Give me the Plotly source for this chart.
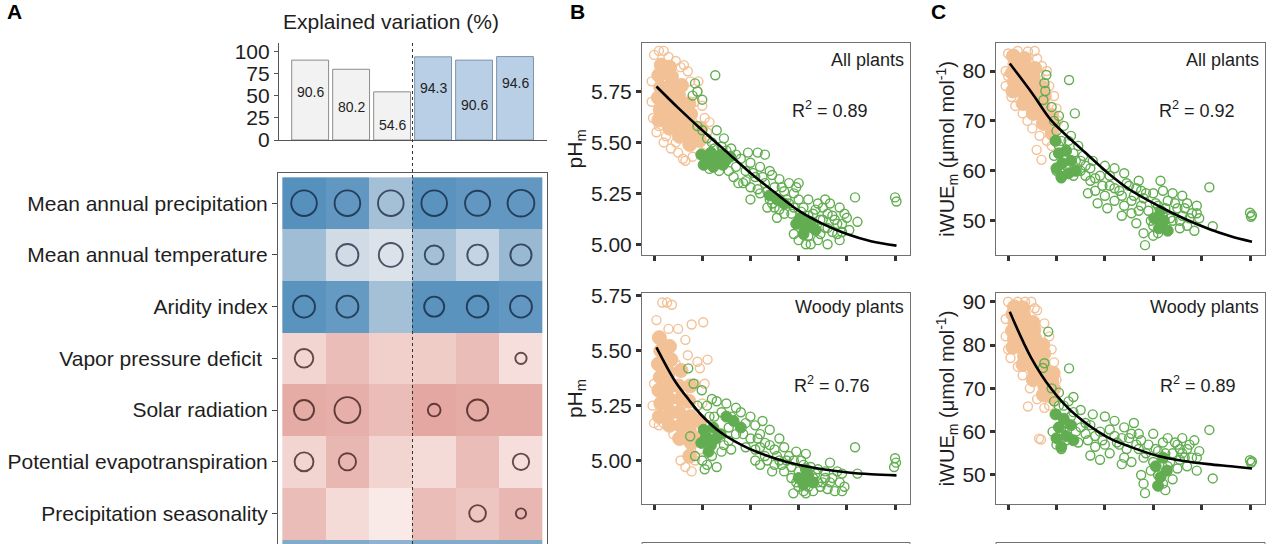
import plotly.graph_objects as go

W, H = 1280, 544

# ---------------- Panel A: explained variation + climate drivers ----------------
bar_values = [90.6, 80.2, 54.6, 94.3, 90.6, 94.6]
bar_label_y = [54.5, 37.5, 17, 59, 40, 65]   # height of the value text inside each bar

drivers = ["Mean annual precipitation", "Mean annual temperature", "Aridity index",
           "Vapor pressure deficit\u00a0", "Solar radiation",
           "Potential evapotranspiration", "Precipitation seasonality", ""]

# correlation-like cell values (blue > 0, red < 0); last row is cut off at the bottom
heat_values = [
    [0.75, 0.70, 0.40, 0.73, 0.70, 0.70],
    [0.42, 0.20, 0.15, 0.40, 0.25, 0.45],
    [0.73, 0.68, 0.40, 0.73, 0.73, 0.70],
    [-0.22, -0.38, -0.25, -0.28, -0.38, -0.16],
    [-0.50, -0.47, -0.38, -0.52, -0.50, -0.50],
    [-0.22, -0.42, -0.22, -0.18, -0.38, -0.16],
    [-0.38, -0.18, -0.08, -0.38, -0.32, -0.42],
    [0.55, 0.55, 0.50, 0.55, 0.55, 0.55],
]

# relative importance shown by circle size (0 = no circle)
importance = [
    [9.5, 9.5, 9.5, 9.5, 9.3, 9.9],
    [0, 8.2, 8.9, 7.1, 7.7, 7.9],
    [8.2, 8.2, 0, 7.5, 8.1, 8.2],
    [7.0, 0, 0, 0, 0, 4.4],
    [7.5, 9.6, 0, 4.9, 7.9, 0],
    [7.1, 6.5, 0, 0, 0, 6.2],
    [0, 0, 0, 0, 6.3, 4.0],
    [0, 0, 0, 0, 0, 0],
]

# ---------------- Panel B: pHm ----------------
b_all_orange_core = [
    (0.10, 5.61), (0.13, 5.66), (0.09, 5.72), (0.14, 5.77), (0.10, 5.83), (0.15, 5.88),
    (0.32, 5.57), (0.35, 5.62), (0.31, 5.67), (0.34, 5.72), (0.30, 5.77), (0.36, 5.82), (0.32, 5.87),
    (0.53, 5.53), (0.56, 5.58), (0.52, 5.63), (0.55, 5.68), (0.51, 5.73), (0.57, 5.78),
    (0.74, 5.49), (0.77, 5.54), (0.73, 5.59), (0.76, 5.64), (0.72, 5.69),
    (0.94, 5.51), (0.97, 5.57),
]
b_all_orange = [
    (0.00, 5.93), (0.10, 5.95), (0.20, 5.95), (0.45, 5.90), (0.62, 5.88), (0.30, 5.92),
    (-0.05, 5.80), (-0.05, 5.70), (-0.02, 5.62), (0.05, 5.55), (0.20, 5.50), (0.35, 5.47),
    (0.50, 5.45), (0.60, 5.42), (0.65, 5.41), (0.80, 5.43), (0.75, 5.80), (0.90, 5.75),
    (1.00, 5.68), (1.05, 5.62), (1.10, 5.55), (1.15, 5.60), (0.85, 5.70), (0.70, 5.85),
    (0.55, 5.87), (1.00, 5.45), (0.45, 5.50), (0.25, 5.53), (0.10, 5.58), (0.92, 5.80),
    (0.40, 5.83), (0.15, 5.72), (0.65, 5.65), (0.80, 5.60), (1.08, 5.48),
]
b_all_green_core = [
    (0.98, 5.44), (1.08, 5.42), (1.18, 5.45), (1.28, 5.42), (1.38, 5.44), (1.48, 5.41),
    (1.03, 5.39), (1.23, 5.38), (1.43, 5.39), (1.58, 5.43),
    (2.40, 5.24), (2.55, 5.22), (2.70, 5.20),
    (2.95, 5.10), (3.05, 5.13), (3.15, 5.08), (3.25, 5.11), (3.35, 5.07), (3.10, 5.05),
]
b_all_green = [
    (0.85, 5.79), (0.90, 5.75), (0.80, 5.73), (1.00, 5.71), (0.90, 5.58), (1.00, 5.56), (1.27, 5.83),
    (1.10, 5.52), (1.20, 5.50), (1.30, 5.56), (1.40, 5.48), (1.50, 5.46), (1.60, 5.47), (1.70, 5.44),
    (1.45, 5.52), (1.70, 5.38), (1.80, 5.42), (1.90, 5.36), (2.00, 5.40), (2.10, 5.33), (2.20, 5.38),
    (1.85, 5.30), (2.00, 5.28), (2.15, 5.45), (2.30, 5.44), (2.40, 5.36), (1.95, 5.45),
    (2.20, 5.25), (2.30, 5.30), (2.40, 5.22), (2.50, 5.28), (2.50, 5.18), (2.60, 5.32), (2.60, 5.22),
    (2.70, 5.26), (2.70, 5.15), (2.80, 5.20), (2.80, 5.30), (2.35, 5.18), (2.55, 5.13), (2.45, 5.34),
    (2.90, 5.25), (3.00, 5.22), (3.00, 5.12), (3.10, 5.18), (3.10, 5.08), (3.20, 5.22), (3.20, 5.04),
    (3.30, 5.15), (3.30, 5.10), (3.40, 5.20), (2.90, 5.05), (3.00, 5.02), (3.15, 5.00), (2.95, 5.28),
    (3.50, 5.12), (3.50, 5.18), (3.60, 5.08), (3.60, 5.15), (3.70, 5.06), (3.75, 5.12), (3.80, 5.05),
    (3.90, 5.10), (3.45, 5.05), (3.55, 5.22), (3.90, 5.06), (3.65, 5.20), (3.25, 5.00), (3.60, 5.00),
    (3.85, 5.02), (4.17, 5.23), (4.22, 5.11), (5.00, 5.23), (5.03, 5.21), (4.00, 5.13),
    (1.55, 5.36), (1.65, 5.33), (1.75, 5.30), (1.90, 5.31), (2.05, 5.35), (2.15, 5.27), (2.25, 5.33),
    (2.35, 5.26), (2.45, 5.20), (2.60, 5.17), (2.75, 5.22), (2.85, 5.15), (2.90, 5.18), (3.05, 5.16),
    (3.20, 5.14), (3.35, 5.17), (3.45, 5.12), (3.55, 5.08), (3.70, 5.14), (3.80, 5.10), (3.95, 5.15),
    (4.05, 5.07), (3.40, 5.02), (2.65, 5.28), (2.00, 5.22), (1.25, 5.47), (1.35, 5.36), (1.15, 5.37),
    (3.85, 5.18), (3.00, 5.30),
]
b_all_fit_x = [0.05, 0.5, 1.0, 1.5, 2.0, 2.5, 3.0, 3.5, 4.0, 4.5, 5.03]
b_all_fit_y = [5.775, 5.67, 5.56, 5.455, 5.35, 5.255, 5.165, 5.10, 5.05, 5.015, 4.993]

b_woody_orange_core = [
    (0.11, 5.20), (0.14, 5.26), (0.10, 5.32), (0.13, 5.38), (0.09, 5.44), (0.14, 5.50), (0.11, 5.56),
    (0.32, 5.16), (0.35, 5.22), (0.31, 5.28), (0.34, 5.34), (0.30, 5.40), (0.35, 5.46), (0.32, 5.52),
    (0.53, 5.10), (0.56, 5.16), (0.52, 5.22), (0.55, 5.28), (0.51, 5.34), (0.56, 5.41),
    (0.74, 5.02), (0.77, 5.08), (0.73, 5.14), (0.76, 5.20), (0.72, 5.27), (0.75, 5.34),
    (0.92, 5.10), (0.95, 5.18),
]
b_woody_orange = [
    (0.17, 5.72), (0.27, 5.72), (0.37, 5.71), (0.05, 5.64), (0.50, 5.60), (0.78, 5.62),
    (1.02, 5.63), (1.11, 5.46), (0.70, 5.48), (0.90, 5.45), (0.00, 5.35), (-0.03, 5.25),
    (0.00, 5.17), (0.10, 5.16), (0.20, 5.17), (0.40, 5.12), (0.55, 5.00), (0.65, 4.97),
    (0.78, 4.95), (0.85, 5.00), (0.95, 5.05), (0.60, 5.30), (0.85, 5.35), (1.00, 5.26),
    (0.45, 5.44), (0.25, 5.48), (0.95, 5.42), (1.05, 5.35), (0.30, 5.60), (0.65, 5.55),
    (0.20, 5.30), (0.15, 5.55),
]
b_woody_green_core = [
    (0.98, 5.08), (1.08, 5.11), (1.18, 5.07), (1.28, 5.10), (1.38, 5.12), (1.03, 5.14),
    (1.23, 5.15), (1.13, 5.04), (1.50, 5.20), (1.65, 5.18), (1.80, 5.15),
    (3.00, 4.92), (3.10, 4.89), (3.20, 4.93), (3.30, 4.90), (3.15, 4.96),
]
b_woody_green = [
    (0.71, 5.42), (0.82, 5.35), (0.99, 5.32), (0.75, 5.11), (0.90, 5.25), (0.85, 5.02),
    (1.10, 5.25), (1.20, 5.28), (1.30, 5.27), (1.40, 5.22), (1.50, 5.26), (1.60, 5.20),
    (1.70, 5.24), (1.80, 5.22), (1.90, 5.17), (2.00, 5.20), (1.25, 5.20), (1.55, 5.15),
    (1.85, 5.12), (2.10, 5.16), (2.15, 5.10), (1.00, 5.00), (1.10, 4.98), (1.20, 5.02),
    (1.40, 5.04), (1.30, 4.97), (1.05, 4.96), (2.10, 5.05), (2.20, 5.12), (2.30, 5.08),
    (2.35, 5.00), (2.40, 5.14), (2.50, 5.05), (2.50, 4.98), (2.60, 5.10), (2.60, 5.00),
    (2.70, 5.06), (2.70, 4.95), (2.80, 5.02), (2.20, 4.98), (2.45, 4.95), (2.25, 5.18),
    (2.85, 4.92), (2.90, 5.00), (3.00, 4.95), (3.00, 4.88), (3.10, 4.98), (3.10, 4.86),
    (3.20, 4.94), (3.20, 4.88), (3.30, 4.92), (3.30, 4.86), (3.40, 4.96), (3.40, 4.90),
    (2.89, 4.85), (2.95, 5.04), (3.15, 5.03), (3.50, 4.90), (3.55, 4.95), (3.60, 4.87),
    (3.70, 4.92), (3.75, 4.86), (3.85, 4.90), (3.90, 4.94), (3.65, 4.99), (3.95, 4.88),
    (4.17, 5.06), (4.22, 4.94), (5.00, 5.01), (5.02, 4.99), (4.98, 4.97),
    (1.45, 5.07), (1.55, 5.09), (1.70, 5.12), (1.90, 5.06), (2.00, 5.10), (2.10, 5.00),
    (2.30, 5.02), (2.40, 5.07), (2.55, 5.02), (2.65, 4.98), (2.75, 5.00), (2.85, 4.97),
    (2.95, 4.90), (3.05, 5.00), (3.25, 4.97), (3.35, 4.94), (3.45, 4.88), (3.55, 4.92),
    (3.65, 4.90), (3.80, 4.95), (3.90, 4.86), (1.60, 5.05), (2.20, 5.06), (3.15, 4.85),
    (1.15, 5.20),
]
b_woody_fit_x = [0.05, 0.44, 0.71, 0.99, 1.4, 1.96, 2.5, 2.99, 3.5, 4.03, 4.5, 5.03]
b_woody_fit_y = [5.516, 5.36, 5.28, 5.205, 5.125, 5.055, 5.01, 4.98, 4.96, 4.945, 4.937, 4.932]

# ---------------- Panel C: iWUEm ----------------
c_all_orange_core = [
    (0.10, 76.0), (0.13, 77.8), (0.09, 79.6), (0.14, 81.4), (0.11, 83.0),
    (0.31, 73.5), (0.34, 75.3), (0.30, 77.1), (0.35, 78.9), (0.32, 80.7), (0.34, 82.5),
    (0.52, 71.5), (0.55, 73.3), (0.51, 75.1), (0.56, 76.9), (0.52, 78.7), (0.55, 80.5),
    (0.73, 69.5), (0.76, 71.3), (0.72, 73.1), (0.75, 74.9), (0.71, 76.7),
    (0.91, 67.5), (0.94, 69.3), (0.90, 71.1),
]
c_all_orange = [
    (0.00, 83.5), (0.20, 84.0), (0.41, 83.9), (0.55, 84.0), (0.60, 82.5), (0.70, 81.0),
    (0.80, 80.0), (-0.05, 80.0), (-0.05, 77.0), (0.07, 74.8), (0.15, 73.0), (0.30, 71.5),
    (0.40, 70.0), (0.50, 68.5), (0.59, 64.2), (0.69, 62.2), (0.65, 67.0), (0.80, 66.0),
    (0.90, 65.0), (1.00, 66.0), (1.03, 70.0), (0.95, 75.0), (0.85, 77.0), (0.20, 81.0),
    (0.45, 78.0), (0.65, 79.0), (0.25, 76.0), (0.00, 79.0), (0.75, 72.0), (1.00, 72.5),
]
c_all_green_core = [
    (0.98, 66.0), (1.05, 63.5), (1.12, 61.5), (1.00, 60.5), (1.20, 64.0), (1.30, 62.0),
    (1.40, 60.0), (1.10, 58.8), (1.25, 59.5),
    (3.02, 50.5), (3.12, 48.5), (3.22, 50.0), (3.30, 48.0), (3.15, 52.0),
]
c_all_green = [
    (0.79, 79.2), (0.75, 77.6), (0.77, 76.0), (0.73, 74.2), (1.26, 78.2), (1.38, 71.5), (0.90, 72.8),
    (0.95, 70.0), (1.00, 68.0), (1.05, 71.0), (1.10, 66.0), (1.15, 69.0), (1.20, 64.0), (1.30, 67.0),
    (1.40, 62.0), (1.45, 65.0), (1.50, 60.0), (1.00, 60.0), (1.10, 58.5), (0.95, 63.0), (1.35, 59.0),
    (1.55, 63.0), (1.60, 61.0), (1.70, 58.0), (1.75, 62.0), (1.80, 56.0), (1.90, 59.0), (2.00, 55.0),
    (2.00, 61.0), (2.10, 57.0), (2.20, 54.0), (2.20, 60.5), (1.65, 55.5), (1.85, 53.5), (2.05, 52.5),
    (2.30, 56.0), (2.40, 59.5), (2.40, 53.0), (2.50, 57.0), (2.55, 51.5), (2.60, 55.0), (2.70, 58.0),
    (2.70, 52.0), (2.80, 54.5), (2.83, 45.1), (2.80, 47.5), (2.35, 51.0), (2.65, 49.5), (2.75, 56.0),
    (2.90, 52.0), (3.00, 55.5), (3.00, 49.0), (3.10, 53.0), (3.10, 47.5), (3.20, 51.0), (3.20, 56.0),
    (3.30, 48.0), (3.30, 54.0), (3.40, 50.0), (3.40, 55.5), (3.50, 52.5), (3.00, 47.0), (3.15, 58.0),
    (3.60, 51.0), (3.60, 55.0), (3.70, 49.0), (3.70, 53.5), (3.80, 51.5), (3.85, 48.0), (3.90, 53.0),
    (3.95, 50.5), (3.55, 48.5), (4.16, 56.7), (4.23, 48.9), (5.00, 51.6), (5.02, 50.8), (5.04, 51.1),
    (1.20, 61.0), (1.35, 63.5), (1.50, 62.0), (1.60, 59.0), (1.70, 60.5), (1.80, 58.5), (1.95, 57.0),
    (2.10, 59.0), (2.20, 56.5), (2.35, 55.0), (2.45, 57.5), (2.55, 54.0), (2.65, 56.5), (2.75, 53.0),
    (2.85, 55.5), (2.95, 50.0), (3.05, 53.5), (3.25, 52.5), (3.35, 50.5), (3.45, 53.5), (3.55, 50.0),
    (3.65, 52.5), (3.75, 50.5), (3.90, 51.5), (1.05, 65.0), (1.25, 66.0),
]
c_all_fit_x = [0.035, 0.5, 0.9, 1.5, 2.07, 2.5, 3.1, 3.6, 4.14, 4.6, 5.04]
c_all_fit_y = [81.5, 75.5, 70.0, 64.5, 59.5, 56.3, 53.0, 50.6, 48.4, 46.9, 45.8]

c_woody_orange_core = [
    (0.10, 79.5), (0.13, 81.4), (0.09, 83.3), (0.14, 85.2), (0.10, 87.1), (0.13, 88.8),
    (0.31, 75.5), (0.34, 77.4), (0.30, 79.3), (0.35, 81.2), (0.31, 83.1), (0.34, 85.0), (0.32, 86.9), (0.30, 88.6),
    (0.52, 72.0), (0.55, 73.9), (0.51, 75.8), (0.56, 77.7), (0.52, 79.6), (0.55, 81.5), (0.53, 83.4), (0.51, 85.2),
    (0.73, 68.5), (0.76, 70.4), (0.72, 72.3), (0.75, 74.2), (0.71, 76.1), (0.74, 78.0), (0.72, 80.0),
    (0.91, 68.0), (0.94, 69.9), (0.90, 71.8), (0.93, 73.5),
]
c_woody_orange = [
    (0.00, 90.0), (0.20, 90.0), (0.35, 90.0), (0.48, 90.0), (0.60, 88.0), (0.75, 85.0),
    (0.85, 82.0), (-0.05, 86.0), (-0.05, 82.0), (0.00, 79.0), (0.05, 77.0), (0.20, 75.0),
    (0.30, 73.0), (0.41, 65.8), (0.64, 58.4), (0.68, 58.2), (0.45, 70.0), (0.60, 67.5),
    (0.75, 65.5), (0.85, 66.0), (0.97, 67.0), (1.00, 72.0), (0.95, 76.0), (0.90, 79.0),
    (0.55, 88.5), (0.25, 84.0), (0.65, 80.0), (0.40, 77.5), (0.15, 87.0),
]
c_woody_green_core = [
    (0.98, 64.0), (1.05, 61.0), (1.15, 63.0), (1.00, 58.5), (1.20, 59.0), (1.30, 61.5),
    (1.10, 56.5), (1.35, 58.0),
    (3.05, 52.0), (3.15, 49.5), (3.20, 54.0), (3.28, 51.0), (3.10, 47.5),
]
c_woody_green = [
    (0.83, 83.1), (0.75, 75.8), (0.72, 74.7), (1.26, 74.6), (0.90, 70.0),
    (0.95, 67.0), (1.00, 64.0), (1.05, 69.0), (1.10, 61.0), (1.15, 66.0), (1.20, 58.0), (1.30, 63.5),
    (1.35, 68.0), (1.40, 60.0), (1.50, 65.0), (1.00, 57.0), (1.10, 56.0), (1.45, 57.5), (0.92, 60.0),
    (1.60, 62.0), (1.65, 58.0), (1.75, 64.0), (1.80, 56.5), (1.90, 60.0), (2.00, 57.0), (2.00, 63.5),
    (2.10, 55.0), (2.20, 59.0), (2.20, 62.5), (1.70, 54.5), (1.90, 53.5),
    (2.30, 57.0), (2.40, 61.0), (2.40, 54.0), (2.50, 58.5), (2.55, 53.0), (2.60, 62.0), (2.70, 56.0),
    (2.70, 59.5), (2.80, 54.0), (2.83, 45.8), (2.80, 48.0), (2.75, 50.0), (2.35, 52.5),
    (2.90, 57.0), (3.00, 53.0), (3.00, 59.5), (3.10, 50.0), (3.10, 55.5), (3.20, 48.0), (3.20, 57.5),
    (3.30, 52.0), (3.30, 58.5), (3.40, 55.0), (3.40, 49.0), (3.50, 57.0), (3.50, 51.5), (3.25, 46.5),
    (3.60, 55.0), (3.60, 58.5), (3.70, 52.0), (3.70, 56.0), (3.80, 54.0), (3.85, 58.0), (3.90, 51.0),
    (3.95, 55.5), (3.55, 53.5), (4.16, 60.4), (4.23, 49.2), (5.00, 53.4), (5.02, 52.8), (5.04, 53.1),
    (1.20, 62.0), (1.35, 64.5), (1.50, 61.0), (1.60, 59.5), (1.70, 61.5), (1.80, 59.0), (1.95, 58.0),
    (2.10, 60.5), (2.25, 57.5), (2.35, 58.5), (2.45, 56.0), (2.55, 59.5), (2.65, 57.0), (2.75, 58.0),
    (2.85, 55.0), (2.95, 51.0), (3.05, 56.0), (3.25, 55.0), (3.35, 53.0), (3.45, 57.5), (3.55, 56.0),
    (3.65, 54.0), (3.75, 57.0), (3.90, 54.0), (1.05, 66.0), (1.25, 67.0),
]
c_woody_fit_x = [0.035, 0.48, 0.9, 1.38, 2.07, 2.6, 3.1, 3.6, 4.14, 4.6, 5.04]
c_woody_fit_y = [87.7, 77.0, 69.8, 64.0, 58.6, 56.2, 54.4, 53.3, 52.5, 52.0, 51.5]

# ---------------- styling ----------------
FONT = "Arial, Liberation Sans, sans-serif"
ORANGE = "#F3C196"
GREEN = "#62AD51"
TXT = "#1E1E1E"


def px(p):
    return p / W


def py(p):
    return 1 - p / H


fig = go.Figure()

# bars
fig.add_trace(go.Bar(
    x=list(range(6)), y=bar_values, width=0.9,
    marker=dict(color=["#F2F2F2"] * 3 + ["#B9CFE6"] * 3,
                line=dict(color=["#8C8C8C"] * 3 + ["#7E95AC"] * 3, width=1)),
    xaxis="x", yaxis="y", hoverinfo="skip"))

# heatmap of drivers
fig.add_trace(go.Heatmap(
    z=heat_values, x=list(range(6)), y=list(range(len(heat_values))),
    colorscale=[[0, "rgb(205,95,85)"], [0.5, "rgb(253,246,244)"], [1, "rgb(30,110,170)"]],
    zmin=-1, zmax=1, showscale=False, xaxis="x2", yaxis="y2", hoverinfo="skip"))

cx, cy, cs, cc = [], [], [], []
for r, row in enumerate(importance):
    for c, v in enumerate(row):
        if v > 0:
            cx.append(c)
            cy.append(r)
            cs.append(2.8 * v - 1)
            cc.append("#0B1830" if heat_values[r][c] > 0 else "#2A0A0A")
fig.add_trace(go.Scatter(
    x=cx, y=cy, mode="markers", xaxis="x2", yaxis="y2", hoverinfo="skip",
    marker=dict(symbol="circle-open", size=cs, color=cc, line=dict(width=1.9))))


def add_panel(n, orange_core, orange, green_core, green, fit_x, fit_y):
    ax = dict(xaxis="x%d" % n, yaxis="y%d" % n, hoverinfo="skip")
    for pts, col, filled in [(orange_core, ORANGE, True), (orange, ORANGE, False),
                             (green_core, GREEN, True), (green, GREEN, False)]:
        xs = [p[0] for p in pts]
        ys = [p[1] for p in pts]
        if filled:
            size = 14 if col == ORANGE else 11
            mk = dict(symbol="circle", size=size, color=col, line=dict(width=1, color=col))
        else:
            mk = dict(symbol="circle-open", size=9, color=col, line=dict(width=1.4))
        fig.add_trace(go.Scatter(x=xs, y=ys, mode="markers", marker=mk, **ax))
    fig.add_trace(go.Scatter(x=fit_x, y=fit_y, mode="lines",
                             line=dict(color="black", width=2.6, shape="spline"), **ax))


add_panel(3, b_all_orange_core, b_all_orange, b_all_green_core, b_all_green, b_all_fit_x, b_all_fit_y)
add_panel(4, b_woody_orange_core, b_woody_orange, b_woody_green_core, b_woody_green, b_woody_fit_x, b_woody_fit_y)
add_panel(5, c_all_orange_core, c_all_orange, c_all_green_core, c_all_green, c_all_fit_x, c_all_fit_y)
add_panel(6, c_woody_orange_core, c_woody_orange, c_woody_green_core, c_woody_green, c_woody_fit_x, c_woody_fit_y)


def scatter_x(dom, anchor):
    return dict(domain=dom, anchor=anchor, range=[-0.25, 5.31], showline=True, mirror=True,
                linecolor="#707070", linewidth=1, showgrid=False, zeroline=False,
                ticks="outside", ticklen=5, tickwidth=2.6, tickcolor="#333333",
                tickvals=[0, 1, 2, 3, 4, 5], showticklabels=False, automargin=False)


def scatter_y(dom, anchor, rng, vals, fmt, title, tsize=21):
    return dict(domain=dom, anchor=anchor, range=rng, showline=True, mirror=True,
                linecolor="#707070", linewidth=1, showgrid=False, zeroline=False,
                ticks="outside", ticklen=5, tickwidth=2.6, tickcolor="#333333",
                tickvals=vals, tickformat=fmt, tickfont=dict(size=21, color=TXT),
                automargin=False,
                title=dict(text=title, font=dict(size=tsize, color=TXT), standoff=2))


b_dom = [px(642), px(910)]
c_dom = [px(996), px(1265)]
top_dom = [py(255), py(42.7)]
bot_dom = [py(504.3), py(292.7)]
ph_title = "pH<sub>m</sub>"
wue_title = "iWUE<sub>m</sub> (μmol mol<sup>-1</sup>)"

layout = dict(
    width=W, height=H, margin=dict(l=0, r=0, t=0, b=0, pad=0, autoexpand=False), autosize=False,
    paper_bgcolor="white", plot_bgcolor="white", showlegend=False,
    font=dict(family=FONT, color=TXT),
    xaxis=dict(domain=[px(279), px(547)], anchor="y", range=[-0.76, 5.78],
               showline=True, linecolor="#555555", linewidth=1.2, showgrid=False,
               zeroline=False, showticklabels=False, ticks="", automargin=False),
    yaxis=dict(domain=[py(140), py(43)], anchor="x", range=[0, 110],
               showline=True, linecolor="#555555", linewidth=1.2, showgrid=False,
               zeroline=False, ticks="outside", ticklen=4, tickcolor="#555555",
               tickvals=[0, 25, 50, 75, 100], tickfont=dict(size=21, color=TXT),
               automargin=False),
    xaxis2=dict(domain=[px(278), px(547)], anchor="y2", range=[-0.6, 5.6], side="top",
                showline=True, linecolor="#5A5A5A", linewidth=1, showgrid=False,
                zeroline=False, showticklabels=False, ticks="", automargin=False),
    yaxis2=dict(domain=[0, py(172.7)], anchor="x2", range=[6.59, -0.59],
                showline=True, mirror=True, linecolor="#5A5A5A", linewidth=1,
                showgrid=False, zeroline=False, ticks="outside", ticklen=5,
                tickcolor="#444444", tickvals=list(range(7)), ticktext=drivers[:7],
                tickfont=dict(size=21, color=TXT), automargin=False),
    xaxis3=scatter_x(b_dom, "y3"),
    yaxis3=scatter_y(top_dom, "x3", [4.947, 5.99], [5.0, 5.25, 5.5, 5.75], ".2f", ph_title),
    xaxis4=scatter_x(b_dom, "y4"),
    yaxis4=scatter_y(bot_dom, "x4", [4.80, 5.765], [5.0, 5.25, 5.5, 5.75], ".2f", ph_title),
    xaxis5=scatter_x(c_dom, "y5"),
    yaxis5=scatter_y(top_dom, "x5", [43.13, 85.67], [50, 60, 70, 80], "d", wue_title, 20),
    xaxis6=scatter_x(c_dom, "y6"),
    yaxis6=scatter_y(bot_dom, "x6", [43.23, 92.08], [50, 60, 70, 80, 90], "d", wue_title, 20),
)
fig.update_layout(**layout)

ann = []
# panel letters
for letter, x in [("A", 14), ("B", 577), ("C", 938)]:
    ann.append(dict(text="<b>%s</b>" % letter, x=px(x), y=py(11), xref="paper", yref="paper",
                    xanchor="center", yanchor="middle", showarrow=False,
                    font=dict(size=21, color="black")))
# bar title and value labels
ann.append(dict(text="Explained variation (%)", x=px(391), y=py(22), xref="paper", yref="paper",
                xanchor="center", yanchor="middle", showarrow=False,
                font=dict(size=21, color=TXT)))
for i, (v, ly) in enumerate(zip(bar_values, bar_label_y)):
    ann.append(dict(text="%.1f" % v, x=i, y=ly, xref="x", yref="y", showarrow=False,
                    xanchor="center", yanchor="middle", font=dict(size=14, color=TXT)))
# scatter labels
panel_text = [(3, "All plants", "0.89", 0.70, 0.918, 0.683),
              (4, "Woody plants", "0.76", 0.709, 0.932, 0.564),
              (5, "All plants", "0.92", 0.747, 0.918, 0.683),
              (6, "Woody plants", "0.89", 0.75, 0.932, 0.564)]
for n, name, r2, rx, ny, ry in panel_text:
    ann.append(dict(text=name, x=0.985, y=ny, xref="x%d domain" % n, yref="y%d domain" % n,
                    xanchor="right", yanchor="middle", showarrow=False,
                    font=dict(size=18, color=TXT)))
    ann.append(dict(text="R<sup>2</sup> = " + r2, x=rx, y=ry, xref="x%d domain" % n,
                    yref="y%d domain" % n, xanchor="center", yanchor="middle",
                    showarrow=False, font=dict(size=18, color=TXT)))
fig.update_layout(annotations=ann)

shapes = [
    # dotted divider between the two groups of models
    dict(type="line", xref="x2", yref="paper", x0=2.5, x1=2.5, y0=0, y1=py(43),
         line=dict(color="#333333", width=1, dash="dot")),
]
# top edges of the next row of scatter panels (cut off by the figure border)
for x0, x1 in [(642, 910), (996, 1265)]:
    shapes.append(dict(type="rect", xref="paper", yref="paper", x0=px(x0), x1=px(x1),
                       y0=-0.1, y1=py(542.5), line=dict(color="#707070", width=1)))
fig.update_layout(shapes=shapes)

# the page's default body margin would push the fixed-size figure off the window
fig.write_html("out.html", config={"displayModeBar": False},
               post_script="document.body.style.margin='0';"
                           "document.body.style.overflow='hidden';")
